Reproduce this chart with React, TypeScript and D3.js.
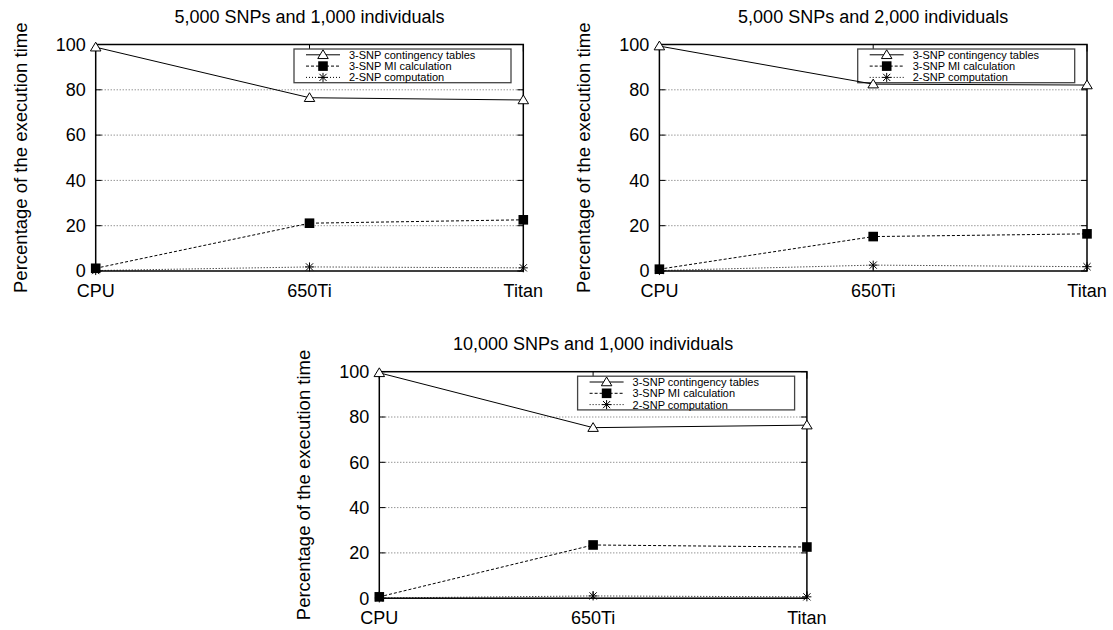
import React from "react";
import * as d3 from "d3";

const categories = ["CPU", "650Ti", "Titan"];
const seriesNames = ["3-SNP contingency tables", "3-SNP MI calculation", "2-SNP computation"];
const yTicks = [0, 20, 40, 60, 80, 100];

const panelTitles = [
  "5,000 SNPs and 1,000 individuals",
  "5,000 SNPs and 2,000 individuals",
  "10,000 SNPs and 1,000 individuals",
];

// panel 1
const contingencyP1 = [98.8, 76.5, 75.5];
const miP1 = [1.2, 21.1, 22.6];
const twoSnpP1 = [0.2, 1.8, 1.4];
// panel 2
const contingencyP2 = [99.3, 82.5, 82.1];
const miP2 = [0.8, 15.2, 16.4];
const twoSnpP2 = [0.2, 2.6, 1.9];
// panel 3
const contingencyP3 = [99.5, 75.3, 76.4];
const miP3 = [0.6, 23.5, 22.6];
const twoSnpP3 = [0.1, 1.0, 0.6];

const panelData = [
  [contingencyP1, miP1, twoSnpP1],
  [contingencyP2, miP2, twoSnpP2],
  [contingencyP3, miP3, twoSnpP3],
];

const FONT = "'Liberation Sans', Arial, Helvetica, sans-serif";
const styles = [
  { dash: "none", marker: "triangle" },
  { dash: "3,2", marker: "square" },
  { dash: "1,2", marker: "star" },
];

function Marker({ type, x, y }: { type: string; x: number; y: number }) {
  if (type === "triangle") {
    const s = 5;
    return (
      <path
        d={`M${x},${y - s}L${x + s * 1.05},${y + s * 0.75}L${x - s * 1.05},${y + s * 0.75}Z`}
        fill="white"
        stroke="black"
        strokeWidth={1}
      />
    );
  }
  if (type === "square") {
    const s = 4.8;
    return <rect x={x - s} y={y - s} width={2 * s} height={2 * s} fill="black" />;
  }
  const s = 4.5;
  return (
    <g stroke="black" strokeWidth={1}>
      <line x1={x - s} y1={y} x2={x + s} y2={y} />
      <line x1={x} y1={y - s} x2={x} y2={y + s} />
      <line x1={x - s * 0.8} y1={y - s * 0.8} x2={x + s * 0.8} y2={y + s * 0.8} />
      <line x1={x - s * 0.8} y1={y + s * 0.8} x2={x + s * 0.8} y2={y - s * 0.8} />
    </g>
  );
}

function Panel({ left, top, title, data }: { left: number; top: number; title: string; data: number[][] }) {
  const width = 427.6;
  const height = 226.5;
  const x = d3.scalePoint<string>().domain(categories).range([left, left + width]);
  const y = d3.scaleLinear().domain([0, 100]).range([top + height, top]);
  const line = d3
    .line<number>()
    .x((_, i) => x(categories[i]) as number)
    .y((d) => y(d));
  const lgL = left + width - 229.3;
  const lgR = left + width - 12.3;
  const lgT = top + 4.5;
  const lgB = top + 38.2;
  return (
    <g>
      <text x={left + width / 2} y={top - 22} textAnchor="middle" fontSize={18} fontFamily={FONT}>
        {title}
      </text>
      <text
        transform={`translate(${left - 69},${top + height / 2}) rotate(-90)`}
        textAnchor="middle"
        fontSize={18.5}
        fontFamily={FONT}
      >
        Percentage of the execution time
      </text>
      {yTicks.filter((t) => t > 0 && t < 100).map((t) => (
        <line
          key={"g" + t}
          x1={left}
          x2={left + width}
          y1={y(t)}
          y2={y(t)}
          stroke="#666"
          strokeWidth={1}
          strokeDasharray="1,2"
        />
      ))}
      {yTicks.map((t) => (
        <g key={"t" + t}>
          <line x1={left} x2={left + 6} y1={y(t)} y2={y(t)} stroke="black" />
          <line x1={left + width} x2={left + width - 6} y1={y(t)} y2={y(t)} stroke="black" />
          <text x={left - 10} y={y(t) + 6.3} textAnchor="end" fontSize={18} fontFamily={FONT}>
            {t}
          </text>
        </g>
      ))}
      {categories.map((c) => (
        <g key={c}>
          <line x1={x(c)} x2={x(c)} y1={top} y2={top + 7} stroke="black" />
          <line x1={x(c)} x2={x(c)} y1={top + height} y2={top + height - 7} stroke="black" />
          <text x={x(c)} y={top + height + 26} textAnchor="middle" fontSize={18} fontFamily={FONT}>
            {c}
          </text>
        </g>
      ))}
      <rect x={left} y={top} width={width} height={height} fill="none" stroke="black" strokeWidth={1.5} />
      {/* legend */}
      <rect x={lgL} y={lgT} width={lgR - lgL} height={lgB - lgT} fill="white" stroke="#444" strokeWidth={1.3} />
      {seriesNames.map((name, i) => {
        const ry = lgT + 5.8 + i * 11.3;
        return (
          <g key={name}>
            <line
              x1={lgL + 12}
              x2={lgL + 46}
              y1={ry}
              y2={ry}
              stroke="black"
              strokeDasharray={styles[i].dash}
            />
            <Marker type={styles[i].marker} x={lgL + 29} y={ry} />
            <text x={lgL + 55} y={ry + 3.9} fontSize={11} fontFamily={FONT}>
              {name}
            </text>
          </g>
        );
      })}
      {data.map((series, i) => (
        <g key={"s" + i}>
          <path d={line(series) || ""} fill="none" stroke="black" strokeWidth={1} strokeDasharray={styles[i].dash} />
          {series.map((v, j) => (
            <Marker key={j} type={styles[i].marker} x={x(categories[j]) as number} y={y(v)} />
          ))}
        </g>
      ))}
    </g>
  );
}

export default function App() {
  const positions = [
    { left: 95.7, top: 44.5 },
    { left: 659.4, top: 44.5 },
    { left: 379.3, top: 371.7 },
  ];
  return (
    <svg
      width={1113}
      height={630}
      style={{ position: "absolute", left: 0, top: 0, background: "white" }}
    >
      <rect width={1113} height={630} fill="white" />
      {positions.map((p, i) => (
        <Panel key={i} left={p.left} top={p.top} title={panelTitles[i]} data={panelData[i]} />
      ))}
    </svg>
  );
}
